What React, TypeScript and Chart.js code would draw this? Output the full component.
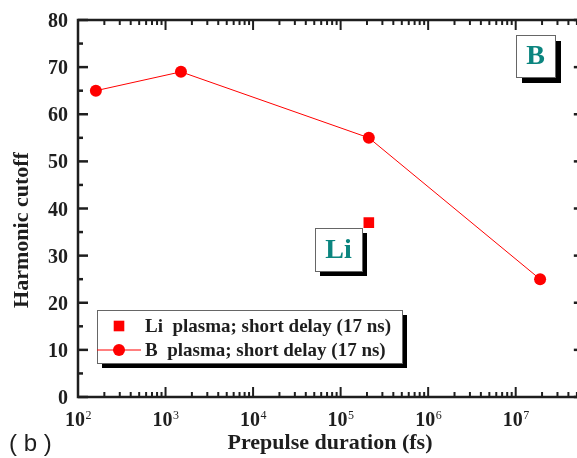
import { useEffect, useRef } from "react";
import { Chart, registerables } from "chart.js";

Chart.register(...registerables);

// Boron plasma: harmonic cutoff vs. prepulse duration (fs)
const bDuration = [160, 1500, 2.1e5, 1.9e7];
const bCutoff = [65, 69, 55, 25];
// Lithium plasma
const liDuration = [2.1e5];
const liCutoff = [37];

const yTicks = [0, 10, 20, 30, 40, 50, 60, 70, 80];
const yMinorTicks = [5, 15, 25, 35, 45, 55, 65, 75];
const xDecades = [2, 3, 4, 5, 6, 7];

const legendLabels = [
  "Li  plasma; short delay (17 ns)",
  "B  plasma; short delay (17 ns)",
];
const xTitle = "Prepulse duration (fs)";
const yTitle = "Harmonic cutoff";
const panelLabel = "( b )";
const liTag = "Li";
const bTag = "B";

const X_MIN = 100;
const X_MAX = 6e7;
const CANVAS_W = 610;
const CANVAS_H = 458;

const INK = "#1e1e1e";
const RED = "#ff0000";
const TEAL = "#0b857f";
const SERIF = '"Liberation Serif", "Times New Roman", serif';
const SANS = '"Liberation Sans", Arial, sans-serif';

function tagBox(ctx: CanvasRenderingContext2D, x0: number, y0: number, w: number, h: number, shadow: number) {
  ctx.fillStyle = "#000";
  ctx.fillRect(x0 + shadow, y0 + shadow, w, h);
  ctx.fillStyle = "#fff";
  ctx.fillRect(x0, y0, w, h);
  ctx.strokeStyle = "#666";
  ctx.lineWidth = 1;
  ctx.strokeRect(x0 + 0.5, y0 + 0.5, w, h);
}

const framePlugin = {
  id: "frame",
  afterDraw(chart: any) {
    const { ctx, chartArea: a, scales } = chart;
    const xs = scales.x;
    const ys = scales.y;
    ctx.save();

    const seg = (x1: number, y1: number, x2: number, y2: number, w: number) => {
      ctx.lineWidth = w;
      ctx.beginPath();
      ctx.moveTo(x1, y1);
      ctx.lineTo(x2, y2);
      ctx.stroke();
    };

    ctx.strokeStyle = INK;
    ctx.lineWidth = 2.5;
    ctx.strokeRect(a.left, a.top, a.right - a.left, a.bottom - a.top);

    // log ticks on bottom and top, pointing inward
    for (const d of xDecades) {
      for (let m = 1; m < 10; m++) {
        const v = m * Math.pow(10, d);
        if (v > X_MAX) break;
        const px = xs.getPixelForValue(v);
        const len = m === 1 ? 10 : 5;
        seg(px, a.bottom, px, a.bottom - len, 2);
        seg(px, a.top, px, a.top + len, 2);
      }
    }
    // linear ticks on left and right
    for (const v of yTicks) {
      const py = ys.getPixelForValue(v);
      seg(a.left, py, a.left + 10, py, 2.5);
      seg(a.right, py, a.right - 10, py, 2.5);
    }
    for (const v of yMinorTicks) {
      const py = ys.getPixelForValue(v);
      seg(a.left, py, a.left + 5, py, 2.5);
      seg(a.right, py, a.right - 5, py, 2.5);
    }

    // tick labels
    ctx.fillStyle = INK;
    ctx.textAlign = "right";
    ctx.textBaseline = "alphabetic";
    ctx.font = `bold 20px ${SERIF}`;
    for (const v of yTicks) {
      const py = ys.getPixelForValue(v);
      ctx.fillText(String(v), a.left - 10, py + 7);
    }
    ctx.textAlign = "left";
    for (const d of xDecades) {
      const px = xs.getPixelForValue(Math.pow(10, d));
      ctx.font = `bold 20px ${SERIF}`;
      const wBase = ctx.measureText("10").width;
      ctx.font = `12px ${SERIF}`;
      const wSup = ctx.measureText(String(d)).width;
      const start = px - (wBase + wSup) / 2;
      ctx.font = `bold 20px ${SERIF}`;
      ctx.fillText("10", start, 426);
      ctx.font = `12px ${SERIF}`;
      ctx.fillText(String(d), start + wBase + 0.5, 419);
    }

    // axis titles
    ctx.font = `bold 22px ${SERIF}`;
    ctx.textAlign = "center";
    ctx.fillText(xTitle, 330, 449);
    ctx.save();
    ctx.translate(28, 230);
    ctx.rotate(-Math.PI / 2);
    ctx.fillText(yTitle, 0, 0);
    ctx.restore();

    ctx.font = `24px ${SANS}`;
    ctx.textAlign = "left";
    ctx.fillText(panelLabel, 9, 451);

    // legend
    const ds = chart.data.datasets;
    tagBox(ctx, 97, 310, 305, 53, 5);
    const liMeta = ds[0];
    const bMeta = ds[1];
    ctx.fillStyle = liMeta.pointBackgroundColor;
    const sq = liMeta.pointRadius * Math.SQRT1_2;
    ctx.fillRect(119 - sq, 326 - sq, 2 * sq, 2 * sq);
    ctx.strokeStyle = bMeta.borderColor;
    seg(97, 350, 141, 350, bMeta.borderWidth);
    ctx.fillStyle = bMeta.pointBackgroundColor;
    ctx.beginPath();
    ctx.arc(119, 350, bMeta.pointRadius, 0, Math.PI * 2);
    ctx.fill();
    ctx.fillStyle = INK;
    ctx.font = `bold 19px ${SERIF}`;
    ctx.fillText(legendLabels[0], 145, 332);
    ctx.fillText(legendLabels[1], 145, 356);

    // element tags
    ctx.textAlign = "center";
    tagBox(ctx, 315, 228, 47, 43, 5);
    tagBox(ctx, 516, 35, 39, 42, 6);
    ctx.fillStyle = TEAL;
    ctx.font = `bold 28px ${SERIF}`;
    ctx.fillText(liTag, 338.5, 258);
    ctx.fillText(bTag, 535.5, 64);

    ctx.restore();
  },
};

export default function App() {
  const ref = useRef<HTMLCanvasElement>(null);

  useEffect(() => {
    if (!ref.current) return;
    const xRight = 78 + Math.log10(X_MAX / X_MIN) * 87.54;
    const chart = new Chart(ref.current, {
      type: "line",
      data: {
        datasets: [
          {
            label: legendLabels[0],
            data: liDuration.map((x, i) => ({ x, y: liCutoff[i] })),
            showLine: false,
            pointStyle: "rect",
            pointRadius: 7.5,
            pointBackgroundColor: RED,
            pointBorderWidth: 0,
            borderColor: RED,
          },
          {
            label: legendLabels[1],
            data: bDuration.map((x, i) => ({ x, y: bCutoff[i] })),
            borderColor: RED,
            borderWidth: 1,
            pointRadius: 6,
            pointBackgroundColor: RED,
            pointBorderWidth: 0,
          },
        ],
      },
      options: {
        animation: false,
        responsive: false,
        devicePixelRatio: 1,
        layout: { padding: { left: 78, top: 20, right: CANVAS_W - xRight, bottom: 61 } },
        plugins: { legend: { display: false }, tooltip: { enabled: false } },
        scales: {
          x: { type: "logarithmic", min: X_MIN, max: X_MAX, display: false },
          y: { type: "linear", min: 0, max: 80, display: false },
        },
      },
      plugins: [framePlugin],
    } as any);
    return () => chart.destroy();
  }, []);

  return (
    <div
      style={{
        position: "fixed",
        left: 0,
        top: 0,
        width: 577,
        height: CANVAS_H,
        overflow: "hidden",
        background: "#fff",
      }}
    >
      <canvas ref={ref} width={CANVAS_W} height={CANVAS_H} style={{ display: "block" }} />
    </div>
  );
}
